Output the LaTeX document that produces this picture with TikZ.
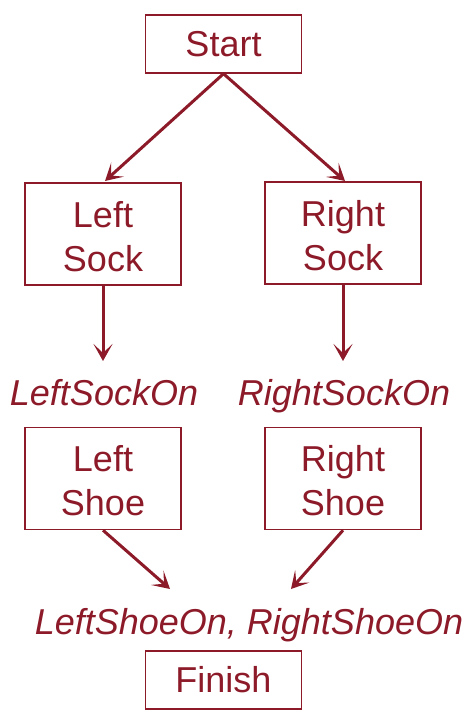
\documentclass[tikz,border=0pt]{standalone}
\usepackage{fontspec}
\setmainfont{Liberation Sans}
\usetikzlibrary{arrows.meta}
\definecolor{dred}{RGB}{140,26,40}
\tikzset{
  box/.style={draw=dred, line width=1.5pt, minimum width=156pt, inner sep=0pt, align=center,
    font=\fontsize{36}{44}\selectfont, text=dred},
  tall/.style={box, minimum height=102pt},
  short/.style={box, minimum height=58pt},
  lbl/.style={font=\fontsize{36}{44}\selectfont\itshape, text=dred, inner sep=0pt, anchor=base},
  arr/.style={draw=dred, line width=3pt, -{Stealth[length=17pt,width=19pt,inset=9pt]}}
}
\begin{document}
\begin{tikzpicture}[x=1pt,y=-1pt]
\useasboundingbox (0,0) rectangle (470,714);
\node[short] (start) at (223.5,44) {Start};
\node[tall] (lsock) at (103,234) {\strut Left\\Sock};
\node[tall] (rsock) at (343,233) {\strut Right\\Sock};
\node[tall] (lshoe) at (103,478.5) {\strut Left\\Shoe};
\node[tall] (rshoe) at (343,478.5) {\strut Right\\Shoe};
\node[short] (finish) at (223.5,680) {Finish};
\node[lbl] (lson) at (104,405) {LeftSockOn};
\node[lbl] (rson) at (344,405) {RightSockOn};
\node[lbl] (shoeon) at (249,634) {LeftShoeOn, RightShoeOn};
\coordinate (t1) at (105,181);
\coordinate (t2) at (345,181);
\coordinate (t3) at (103,361);
\coordinate (t4) at (343,361);
\coordinate (t5) at (170,589);
\coordinate (t6) at (291,589);
\draw[arr] (start.south) -- (t1);
\draw[arr] (start.south) -- (t2);
\draw[arr] (lsock.south) -- (t3);
\draw[arr] (rsock.south) -- (t4);
\draw[arr] (lshoe.south) -- (t5);
\draw[arr] (rshoe.south) -- (t6);
\end{tikzpicture}
\end{document}
